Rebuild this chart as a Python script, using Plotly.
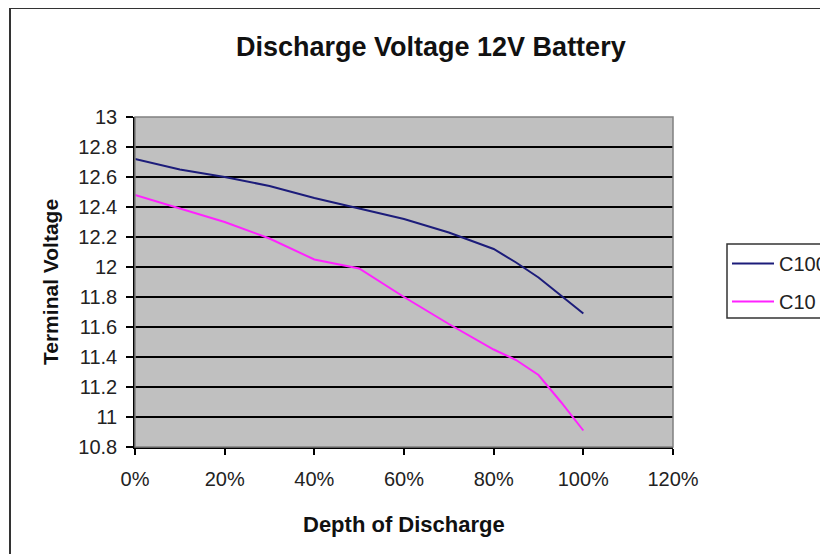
import plotly.graph_objects as go

depth = [0.0, 0.10, 0.20, 0.30, 0.40, 0.50, 0.60, 0.70, 0.80, 0.85, 0.90, 0.95, 1.00]
c100 = [12.72, 12.65, 12.60, 12.54, 12.46, 12.39, 12.32, 12.23, 12.12, 12.03, 11.93, 11.81, 11.69]
c10 = [12.48, 12.39, 12.30, 12.19, 12.05, 11.99, 11.80, 11.62, 11.45, 11.38, 11.28, 11.10, 10.91]

x_ticks = [0, 0.2, 0.4, 0.6, 0.8, 1.0, 1.2]
x_tick_text = ["0%", "20%", "40%", "60%", "80%", "100%", "120%"]
y_ticks = [10.8, 11.0, 11.2, 11.4, 11.6, 11.8, 12.0, 12.2, 12.4, 12.6, 12.8, 13.0]
y_tick_text = ["10.8", "11", "11.2", "11.4", "11.6", "11.8", "12", "12.2", "12.4", "12.6", "12.8", "13"]

FONT = "Arial, Liberation Sans, sans-serif"

fig = go.Figure()
fig.add_trace(go.Scatter(x=depth, y=c100, mode="lines", name="C100",
                         line=dict(color="#1c1c7a", width=2), legendgroup="a"))
fig.add_trace(go.Scatter(x=depth, y=c10, mode="lines", name="C10",
                         line=dict(color="#ff22ff", width=2), legendgroup="b"))

OFF = 8  # page body margin
W, H = 880, 554  # wider than the window: the chart area runs off the right edge
L, T = 135 - OFF, 117 - OFF
pw, ph = 538, 330
R, B = W - L - pw, H - T - ph

def px_x(p):
    return (p - OFF - L) / pw

def px_y(p):
    return (T + ph - (p - OFF)) / ph

fig.update_layout(
    width=W, height=H,
    margin=dict(l=L, r=R, t=T, b=B),
    paper_bgcolor="white",
    plot_bgcolor="#c0c0c0",
    font=dict(family=FONT, size=20, color="#222222"),
    showlegend=True,
    legend=dict(
        x=px_x(727), y=px_y(244), xanchor="left", yanchor="top",
        borderwidth=0, bgcolor="rgba(0,0,0,0)",
        font=dict(family=FONT, size=20, color="#222222"),
        traceorder="grouped", tracegroupgap=9, itemwidth=42,
    ),
    xaxis=dict(
        range=[0, 1.2], tickvals=x_ticks, ticktext=x_tick_text,
        showgrid=False, zeroline=False,
        showline=True, linecolor="black", linewidth=1.5, mirror=False,
        ticks="outside", ticklen=6, tickcolor="black", tickwidth=1.5,
        ticklabelstandoff=7,
        tickfont=dict(family=FONT, size=20, color="#222222"),
    ),
    yaxis=dict(
        range=[10.8, 13.0], tickvals=y_ticks, ticktext=y_tick_text,
        showgrid=True, gridcolor="black", gridwidth=2,
        zeroline=False,
        showline=True, linecolor="black", linewidth=1.5,
        ticks="outside", ticklen=7, tickcolor="black", tickwidth=1.5,
        ticklabelstandoff=5,
        tickfont=dict(family=FONT, size=20, color="#222222"),
    ),
)

# plot area frame (gray)
fig.add_shape(type="rect", xref="paper", yref="paper", x0=0, y0=0, x1=1, y1=1,
              line=dict(color="#808080", width=1.5), fillcolor="rgba(0,0,0,0)", layer="above")
# chart area outer border
fig.add_shape(type="rect", xref="paper", yref="paper",
              x0=px_x(10), y0=px_y(620), x1=px_x(960), y1=px_y(8),
              line=dict(color="#333333", width=2), fillcolor="rgba(0,0,0,0)")
# legend box (runs off the right edge as in the original)
fig.add_shape(type="rect", xref="paper", yref="paper",
              x0=px_x(727), y0=px_y(318), x1=px_x(940), y1=px_y(244),
              line=dict(color="#333333", width=1.5), fillcolor="white", layer="below")

fig.add_annotation(text="<b>Discharge Voltage 12V Battery</b>", xref="paper", yref="paper",
                   x=px_x(431), y=px_y(47), showarrow=False, xanchor="center", yanchor="middle",
                   font=dict(family=FONT, size=27, color="#111111"))
fig.add_annotation(text="<b>Depth of Discharge</b>", xref="paper", yref="paper",
                   x=px_x(404), y=px_y(524), showarrow=False, xanchor="center", yanchor="middle",
                   font=dict(family=FONT, size=22, color="#111111"))
fig.add_annotation(text="<b>Terminal Voltage</b>", xref="paper", yref="paper",
                   x=px_x(50), y=px_y(282), showarrow=False, xanchor="center", yanchor="middle",
                   textangle=-90, font=dict(family=FONT, size=21, color="#111111"))

fig.write_html("out.html")
